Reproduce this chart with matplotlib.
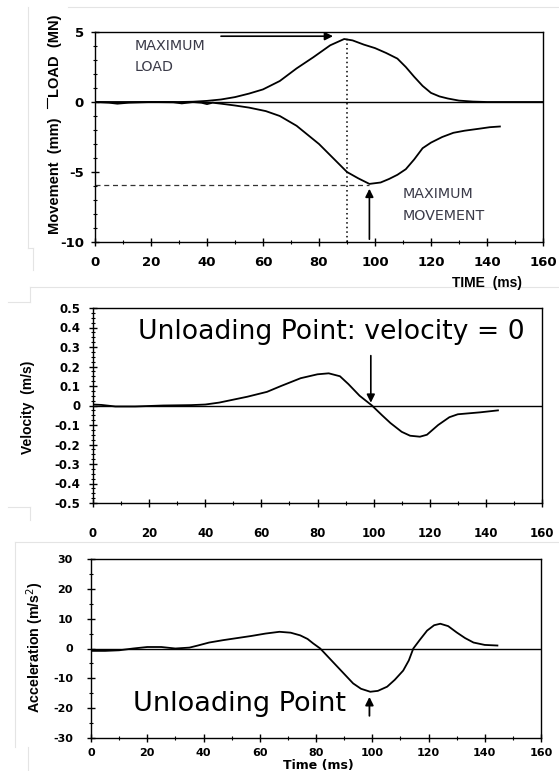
import matplotlib
matplotlib.use("Agg")
import matplotlib.pyplot as plt
from matplotlib.ticker import MultipleLocator
from matplotlib.lines import Line2D

plt.rcParams['font.family'] = ['Liberation Sans', 'DejaVu Sans']

# ---------------- data ----------------
t_load = [0, 10, 20, 30, 35, 40, 45, 50, 55, 60, 66, 72, 78, 84, 89, 92, 96, 100,
          104, 108, 111, 114, 117, 120, 123, 126, 130, 135, 140, 150, 160]
load = [0, 0, 0, 0, 0.02, 0.08, 0.18, 0.35, 0.6, 0.9, 1.5, 2.4, 3.2, 4.05, 4.5, 4.4,
        4.1, 3.85, 3.5, 3.1, 2.5, 1.8, 1.15, 0.65, 0.4, 0.25, 0.1, 0.03, 0.0, 0.0, 0.0]

t_mov = [0, 5, 8, 12, 20, 28, 31, 35, 38, 40, 42, 45, 50, 55, 61, 66, 72, 80, 85, 90,
         94, 98, 102, 105, 108, 111, 114, 117, 120, 124, 128, 132, 137.5, 141, 144.6]
mov = [0, -0.05, -0.12, -0.05, 0, -0.02, -0.1, 0, -0.05, -0.15, -0.05, -0.12, -0.25,
       -0.4, -0.65, -1.0, -1.7, -3.0, -4.0, -5.0, -5.45, -5.85, -5.75, -5.5, -5.2, -4.8,
       -4.1, -3.3, -2.9, -2.5, -2.2, -2.05, -1.9, -1.8, -1.75]

t_vel = [0, 3, 8, 15, 25, 35, 40, 45, 50, 55, 62, 67, 74, 80, 84, 88, 91, 95, 99.4,
         103, 106, 110, 113, 116.5, 119, 123, 127, 130, 138, 144.3]
vel = [0.005, 0.003, -0.005, -0.005, 0, 0.002, 0.005, 0.015, 0.03, 0.045, 0.07, 0.1,
       0.14, 0.16, 0.165, 0.15, 0.11, 0.05, 0, -0.05, -0.09, -0.135, -0.155, -0.16,
       -0.15, -0.1, -0.06, -0.045, -0.035, -0.025]

t_acc = [0, 5, 10, 15, 20, 25, 30, 35, 38, 42, 47, 52, 57, 62, 67, 71, 74.4, 77, 79,
         81.5, 84, 87.5, 90, 93.2, 96, 99.3, 102, 105.3, 108, 111, 113, 114.6, 117,
         119.5, 122, 124.2, 127, 130, 133, 136, 140, 144.5]
acc = [-0.8, -0.8, -0.6, 0, 0.5, 0.5, 0, 0.3, 1, 2, 2.8, 3.5, 4.2, 5, 5.6, 5.3, 4.4,
       3.2, 1.7, 0, -2.5, -6, -8.5, -11.7, -13.5, -14.5, -14.2, -12.8, -10.5, -7.4, -4,
       0, 3, 6, 7.8, 8.3, 7.5, 5.4, 3.5, 2, 1.2, 1]

x_ticks = [0, 20, 40, 60, 80, 100, 120, 140, 160]
p1_yticks = [5, 0, -5, -10]
p1_ylabels = ['5', '0', '-5', '-10']
p2_yticks = [0.5, 0.4, 0.3, 0.2, 0.1, 0, -0.1, -0.2, -0.3, -0.4, -0.5]
p2_ylabels = ['0.5', '0.4', '0.3', '0.2', '0.1', '0', '-0.1', '-0.2', '-0.3', '-0.4', '-0.5']
p3_yticks = [30, 20, 10, 0, -10, -20, -30]

max_load_t = 90
max_mov_t = 98
max_mov_val = -5.9
unload_t = 99

# ---------------- figure ----------------
W, H = 559, 771
fig = plt.figure(figsize=(W / 100, H / 100), dpi=100)

def ax_at(x0, y0, x1, y1):
    return fig.add_axes([x0 / W, 1 - y1 / H, (x1 - x0) / W, (y1 - y0) / H])

# faint scan borders
for (xa, ya, xb, yb) in [(28, 7, 28, 248), (68, 7, 559, 7), (28, 248, 33, 248),
                         (33, 248, 33, 270),
                         (30, 287, 559, 287), (30, 287, 30, 302), (8, 302, 30, 302),
                         (8, 507, 30, 507), (30, 507, 30, 520),
                         (15, 542, 559, 542), (15, 542, 15, 747), (28, 747, 28, 771)]:
    fig.add_artist(Line2D([xa / W, xb / W], [1 - ya / H, 1 - yb / H],
                          color='#e4e4e4', lw=0.8))

TICKFONT = 'DejaVu Sans'

def style(ax, fsx, fsy, padx, pady):
    for s in ax.spines.values():
        s.set_linewidth(1.0)
        s.set_color('black')
    ax.tick_params(which='major', direction='inout', length=6, width=1.0)
    ax.tick_params(axis='x', which='major', labelsize=fsx, pad=padx)
    ax.tick_params(axis='y', which='major', labelsize=fsy, pad=pady)
    ax.tick_params(which='minor', direction='inout', length=3.5, width=0.8)
    for lab in ax.get_xticklabels() + ax.get_yticklabels():
        lab.set_fontweight('bold')
        lab.set_family(TICKFONT)
    ax.set_xlim(0, 160)
    ax.xaxis.set_minor_locator(MultipleLocator(10))

# ---- Panel 1 ----
ax1 = ax_at(95, 32, 543, 242)
ax1.set_ylim(-10, 5)
ax1.set_yticks(p1_yticks)
ax1.set_yticklabels(p1_ylabels)
ax1.yaxis.set_minor_locator(MultipleLocator(1))
ax1.set_xticks(x_ticks)
ax1.set_xticklabels([str(v) for v in x_ticks])
style(ax1, 9.5, 9.5, 7, 5)
ax1.axhline(0, color='black', lw=1.0)
ax1.plot(t_load, load, color='black', lw=1.3)
ax1.plot(t_mov, mov, color='black', lw=1.3)
ax1.plot([max_load_t, max_load_t], [-10, 4.55], color='black', lw=1.1, ls=(0, (1, 2)))
ax1.plot([0, max_mov_t], [max_mov_val, max_mov_val], color='#333333', lw=0.9, ls=(0, (4, 3)))
ax1.annotate('', xy=(86, 4.7), xytext=(44, 4.7),
             arrowprops=dict(arrowstyle='-|>', color='black', lw=1.2, mutation_scale=12))
ax1.annotate('', xy=(max_mov_t, -6.0), xytext=(max_mov_t, -10),
             arrowprops=dict(arrowstyle='-|>', color='black', lw=1.2, mutation_scale=12))
ax1.text(14.3, 4.5, 'MAXIMUM\nLOAD', fontsize=10.3, family='DejaVu Sans', color='#3a3a48',
         va='top', ha='left', linespacing=1.65)
ax1.text(110, -6.1, 'MAXIMUM\nMOVEMENT', fontsize=10.3, family='DejaVu Sans', color='#3a3a48',
         va='top', ha='left', linespacing=1.65)
fig.text(452 / W, 1 - 283 / H, 'TIME  (ms)', fontsize=10, fontweight='bold', va='center', ha='left')
fig.text(55 / W, 1 - 176 / H, 'Movement  (mm)', rotation=90, fontsize=10.5, fontweight='bold',
         va='center', ha='center')
fig.text(55 / W, 1 - 56 / H, 'LOAD  (MN)', rotation=90, fontsize=10.5, fontweight='bold',
         va='center', ha='center')
fig.add_artist(Line2D([47 / W, 47 / W], [1 - 98 / H, 1 - 108 / H], color='black', lw=0.8))

# ---- Panel 2 ----
ax2 = ax_at(93, 308, 542, 503)
ax2.set_ylim(-0.5, 0.5)
ax2.set_yticks(p2_yticks)
ax2.set_yticklabels(p2_ylabels)
ax2.yaxis.set_minor_locator(MultipleLocator(0.025))
ax2.set_xticks(x_ticks)
ax2.set_xticklabels([str(v) for v in x_ticks])
style(ax2, 8.5, 8.5, 14, 6)
ax2.tick_params(which='minor', length=2.5)
ax2.axhline(0, color='black', lw=1.0)
ax2.plot(t_vel, vel, color='black', lw=1.3)
ax2.annotate('', xy=(unload_t, 0.0), xytext=(unload_t, 0.27),
             arrowprops=dict(arrowstyle='-|>', color='black', lw=1.2, mutation_scale=12))
ax2.text(16, 0.378, 'Unloading Point: velocity = 0', fontsize=19.2, family='DejaVu Sans',
         va='center', ha='left')
ax2.set_ylabel('Velocity  (m/s)', fontsize=10, fontweight='bold')
ax2.yaxis.set_label_coords(-0.13, 0.49)

# ---- Panel 3 ----
ax3 = ax_at(91, 559, 541, 738)
ax3.set_ylim(-30, 30)
ax3.set_yticks(p3_yticks)
ax3.set_yticklabels([str(v) for v in p3_yticks])
ax3.yaxis.set_minor_locator(MultipleLocator(5))
ax3.set_xticks(x_ticks)
ax3.set_xticklabels([str(v) for v in x_ticks])
style(ax3, 8, 8, 4, 10)
ax3.axhline(0, color='black', lw=1.0)
ax3.plot(t_acc, acc, color='black', lw=1.3)
ax3.annotate('', xy=(unload_t, -15.3), xytext=(unload_t, -23.5),
             arrowprops=dict(arrowstyle='-|>', color='black', lw=1.3, mutation_scale=12))
ax3.text(15, -18.5, 'Unloading Point', fontsize=19.5, family='DejaVu Sans',
         va='center', ha='left')
ax3.set_ylabel('Acceleration (m/s$^2$)', fontsize=10.3, fontweight='bold')
ax3.yaxis.set_label_coords(-0.1, 0.505)
fig.text(318 / W, 1 - 765.5 / H, 'Time (ms)', fontsize=9, family='DejaVu Sans',
         fontweight='bold', va='center', ha='center')

fig.savefig('out.png', dpi=100)
